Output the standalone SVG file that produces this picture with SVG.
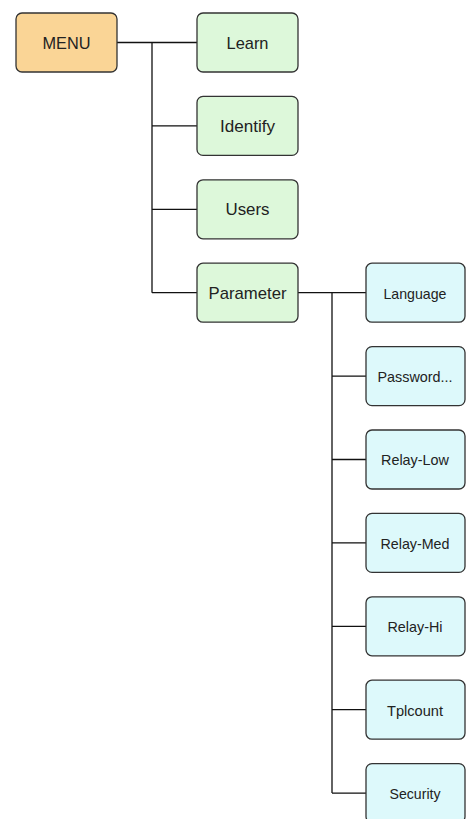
<svg xmlns="http://www.w3.org/2000/svg" width="466" height="819" viewBox="0 0 466 819">
<style>
.box{stroke:#333;stroke-width:1.3}
.root{fill:#FAD596}
.l1{fill:#DDF8DA}
.l2{fill:#DDF9FB}
.t{font-family:"Liberation Sans",Arial,sans-serif;fill:#222;text-anchor:middle}
.t1{font-size:17px}
.t2{font-size:15px}
.c{stroke:#111;stroke-width:1.3;fill:none}
</style>
<rect width="466" height="819" fill="#fff"/>
<g id="connectors">
<path class="c" d="M117 42.5H197M152 42.5V292.7M152 125.9H197M152 209.3H197M152 292.7H197"/>
<path class="c" d="M298 292.7H366M332 292.7V793.1M332 376.1H366M332 459.5H366M332 542.9H366M332 626.3H366M332 709.7H366M332 793.1H366"/>
</g>
<g id="menu"><rect class="box root" x="16" y="13" width="101" height="59" rx="6"/><text class="t t1" x="66.5" y="48.5" textLength="48" lengthAdjust="spacingAndGlyphs">MENU</text></g>
<g id="learn"><rect class="box l1" x="197" y="13" width="101" height="59" rx="6"/><text class="t t1" x="247.5" y="48.5" textLength="42" lengthAdjust="spacingAndGlyphs">Learn</text></g>
<g id="identify"><rect class="box l1" x="197" y="96.4" width="101" height="59" rx="6"/><text class="t t1" x="247.5" y="131.9" textLength="55" lengthAdjust="spacingAndGlyphs">Identify</text></g>
<g id="users"><rect class="box l1" x="197" y="179.8" width="101" height="59" rx="6"/><text class="t t1" x="247.5" y="215.3" textLength="44" lengthAdjust="spacingAndGlyphs">Users</text></g>
<g id="parameter"><rect class="box l1" x="197" y="263.2" width="101" height="59" rx="6"/><text class="t t1" x="247.5" y="298.7" textLength="78" lengthAdjust="spacingAndGlyphs">Parameter</text></g>
<g id="language"><rect class="box l2" x="366" y="263.2" width="99" height="59" rx="6"/><text class="t t2" x="415" y="298.5" textLength="63" lengthAdjust="spacingAndGlyphs">Language</text></g>
<g id="password"><rect class="box l2" x="366" y="346.6" width="99" height="59" rx="6"/><text class="t t2" x="415" y="381.9" textLength="75" lengthAdjust="spacingAndGlyphs">Password...</text></g>
<g id="relay-low"><rect class="box l2" x="366" y="430" width="99" height="59" rx="6"/><text class="t t2" x="415" y="465.3" textLength="68" lengthAdjust="spacingAndGlyphs">Relay-Low</text></g>
<g id="relay-med"><rect class="box l2" x="366" y="513.4" width="99" height="59" rx="6"/><text class="t t2" x="415" y="548.7" textLength="69" lengthAdjust="spacingAndGlyphs">Relay-Med</text></g>
<g id="relay-hi"><rect class="box l2" x="366" y="596.8" width="99" height="59" rx="6"/><text class="t t2" x="415" y="632.1" textLength="55" lengthAdjust="spacingAndGlyphs">Relay-Hi</text></g>
<g id="tplcount"><rect class="box l2" x="366" y="680.2" width="99" height="59" rx="6"/><text class="t t2" x="415" y="715.5" textLength="56" lengthAdjust="spacingAndGlyphs">Tplcount</text></g>
<g id="security"><rect class="box l2" x="366" y="763.6" width="99" height="59" rx="6"/><text class="t t2" x="415" y="798.9" textLength="51" lengthAdjust="spacingAndGlyphs">Security</text></g>
</svg>
